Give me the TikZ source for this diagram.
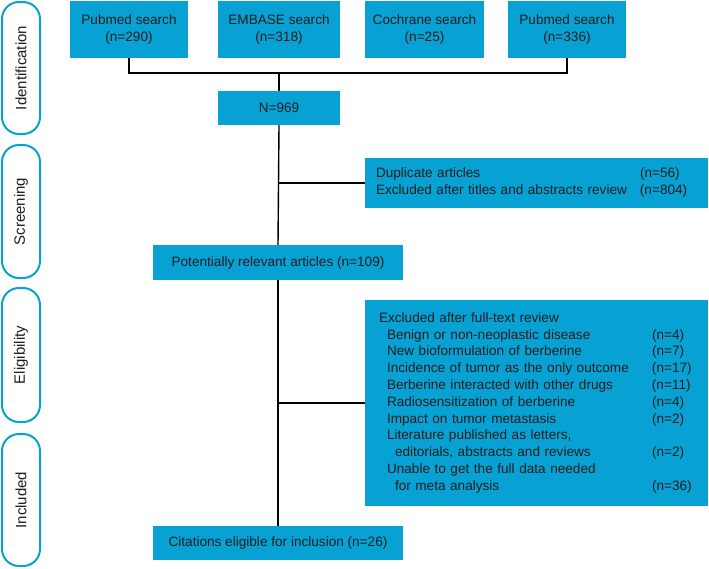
\documentclass[tikz,border=0pt]{standalone}
\usepackage{fontspec}
\setmainfont{Liberation Sans}
\definecolor{boxblue}{RGB}{8,161,212}
\definecolor{txt}{RGB}{30,30,30}
\tikzset{
  bluebox/.style={fill=boxblue, draw=none, inner sep=0pt, text=txt,
    font=\fontsize{13.6}{16.8}\selectfont, align=center},
  phase/.style={draw=boxblue, line width=2pt, rounded corners=17pt, minimum width=38pt,
    inner sep=0pt},
  phasetext/.style={rotate=90, text=txt, font=\fontsize{15}{18}\selectfont},
  conn/.style={draw=black, line width=1.4pt}
}
\begin{document}
\begin{tikzpicture}[x=1pt,y=-1pt]
\useasboundingbox (0,0) rectangle (709,568);
% phase labels
\node[phase, minimum height=132pt] (ph1) at (21,68) {};
\node[phasetext] (ph1t) at (ph1.center) {Identification};
\node[phase, minimum height=133pt] (ph2) at (21,211.5) {};
\node[phasetext] (ph2t) at (ph2.center) {Screening};
\node[phase, minimum height=134pt] (ph3) at (21,355) {};
\node[phasetext] (ph3t) at (ph3.center) {Eligibility};
\node[phase, minimum height=132pt] (ph4) at (21,500) {};
\node[phasetext] (ph4t) at (ph4.center) {Included};
% search boxes
\node[bluebox, minimum width=118pt, minimum height=57pt] (s1) at (129,29.5) {\raisebox{-1.5pt}{\begin{tabular}{@{}c@{}}Pubmed search\\(n=290)\end{tabular}}};
\node[bluebox, minimum width=122pt, minimum height=57pt] (s2) at (279,29.5) {\raisebox{-1.5pt}{\begin{tabular}{@{}c@{}}EMBASE search\\(n=318)\end{tabular}}};
\node[bluebox, minimum width=119pt, minimum height=57pt] (s3) at (424.5,29.5) {\raisebox{-1.5pt}{\begin{tabular}{@{}c@{}}Cochrane search\\(n=25)\end{tabular}}};
\node[bluebox, minimum width=118pt, minimum height=57pt] (s4) at (567,29.5) {\raisebox{-1.5pt}{\begin{tabular}{@{}c@{}}Pubmed search\\(n=336)\end{tabular}}};
\node[bluebox, minimum width=122pt, minimum height=34pt] (n) at (279,108) {N=969};
\node[bluebox, text width=321pt, inner xsep=11pt, minimum height=50pt, align=left] (dup) at (536.5,183) {%
\begin{tabular}{@{}p{264pt}@{}l@{}}
Duplicate articles & (n=56)\\
Excluded after titles and abstracts review & (n=804)
\end{tabular}};
\node[bluebox, minimum width=250pt, minimum height=35pt] (pot) at (278,262.5) {Potentially relevant articles (n=109)};
\node[bluebox, text width=315pt, inner xsep=14pt, minimum height=206pt, align=left] (elig) at (536.5,403) {%
\raisebox{-3pt}{\begin{tabular}{@{}p{273pt}@{}l@{}}
Excluded after full-text review & \\
\hspace{8pt}Benign or non-neoplastic disease & (n=4)\\
\hspace{8pt}New bioformulation of berberine & (n=7)\\
\hspace{8pt}Incidence of tumor as the only outcome & (n=17)\\
\hspace{8pt}Berberine interacted with other drugs & (n=11)\\
\hspace{8pt}Radiosensitization of berberine & (n=4)\\
\hspace{8pt}Impact on tumor metastasis & (n=2)\\
\hspace{8pt}Literature published as letters, & \\
\hspace{16pt}editorials, abstracts and reviews & (n=2)\\
\hspace{8pt}Unable to get the full data needed & \\
\hspace{16pt}for meta analysis & (n=36)
\end{tabular}}};
\node[bluebox, minimum width=250pt, minimum height=34pt] (cit) at (278,543) {Citations eligible for inclusion (n=26)};
% connectors
\coordinate (j1) at (279,73);
\coordinate (b1) at (279,183);
\coordinate (b2) at (279,403);
\draw[conn] (s1.south) |- (j1) -| (s4.south);
\draw[conn] (j1) -- (n.north);
\draw[conn] (n.south) -- (pot.north);
\draw[conn] (pot.south) -- (cit.north);
\draw[conn] (b1) -- (dup.west);
\draw[conn] (b2) -- (elig.west);
\end{tikzpicture}
\end{document}
